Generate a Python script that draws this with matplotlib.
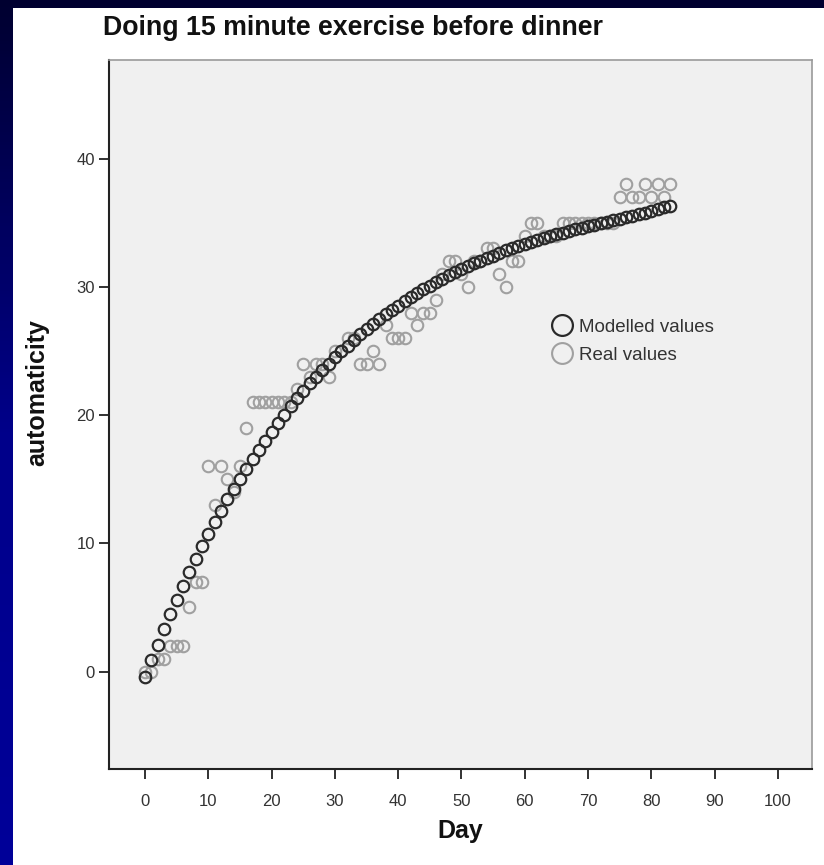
import numpy as np
import matplotlib
matplotlib.use("Agg")
import matplotlib.pyplot as plt
from matplotlib.patches import Rectangle
from matplotlib.lines import Line2D
from matplotlib.colors import LinearSegmentedColormap

plt.rcParams['font.family'] = ['Liberation Sans', 'DejaVu Sans']

title = "Doing 15 minute exercise before dinner"
x_label = "Day"
y_label = "automaticity"
legend_labels = ["Modelled values", "Real values"]
x_ticks = [0, 10, 20, 30, 40, 50, 60, 70, 80, 90, 100]
y_ticks = [0, 10, 20, 30, 40]

model_days = list(range(0, 84))
model_values = [
    -0.4, 0.9, 2.1, 3.3, 4.5, 5.6, 6.7, 7.8, 8.8, 9.8,
    10.7, 11.65, 12.55, 13.45, 14.25, 15.0, 15.8, 16.6, 17.3, 18.0,
    18.7, 19.4, 20.0, 20.7, 21.3, 21.9, 22.5, 23.0, 23.5, 24.0,
    24.5, 25.0, 25.4, 25.85, 26.3, 26.7, 27.1, 27.5, 27.85, 28.2,
    28.55, 28.9, 29.2, 29.5, 29.8, 30.1, 30.4, 30.65, 30.9, 31.15,
    31.4, 31.65, 31.85, 32.05, 32.25, 32.45, 32.65, 32.85, 33.0, 33.2,
    33.35, 33.5, 33.65, 33.8, 33.95, 34.1, 34.2, 34.35, 34.5, 34.6,
    34.75, 34.85, 34.95, 35.1, 35.2, 35.3, 35.45, 35.55, 35.65, 35.8,
    35.9, 36.05, 36.2, 36.35,
]

real_days = list(range(0, 84))
real_values = [
    0, 0, 1, 1, 2, 2, 2, 5, 7, 7,
    16, 13, 16, 15, 14, 16, 19, 21, 21, 21,
    21, 21, 21, 21, 22, 24, 23, 24, 24, 23,
    25, 25, 26, 26, 24, 24, 25, 24, 27, 26,
    26, 26, 28, 27, 28, 28, 29, 31, 32, 32,
    31, 30, 32, 32, 33, 33, 31, 30, 32, 32,
    34, 35, 35, 34, 34, 34, 35, 35, 35, 35,
    35, 35, 35, 35, 35, 37, 38, 37, 37, 38,
    37, 38, 37, 38,
]

W, H, DPI = 824, 865, 100
fig = plt.figure(figsize=(W / DPI, H / DPI), dpi=DPI)

# background: blue gradient frame with white panel
bg = fig.add_axes([0, 0, 1, 1], zorder=-10)
grad = np.linspace(0, 1, 256).reshape(-1, 1)
cmap = LinearSegmentedColormap.from_list("bluegrad", ["#000030", "#00008a", "#000099"])
bg.imshow(grad, aspect="auto", cmap=cmap, extent=[0, 1, 0, 1], origin="upper")
bg.add_patch(Rectangle((13 / W, 0), 1 - 13 / W, 1 - 8 / H, facecolor="white",
                       edgecolor="none", transform=bg.transAxes))
bg.set_xlim(0, 1)
bg.set_ylim(0, 1)
bg.axis("off")

ax = fig.add_axes([109 / W, 96 / H, (812 - 109) / W, (769 - 60) / H])
ax.set_facecolor("#f0f0f0")

ax.plot(real_days, real_values, linestyle="none", marker="o", markersize=8.3,
        markerfacecolor="none", markeredgecolor="#a0a0a0", markeredgewidth=1.5,
        zorder=2)
ax.plot(model_days, model_values, linestyle="none", marker="o", markersize=8.3,
        markerfacecolor="none", markeredgecolor="#2a2a2a", markeredgewidth=1.6,
        zorder=3)

ax.set_xlim(-5.7, 105.4)
ax.set_ylim(-7.6, 47.7)
ax.set_xticks(x_ticks)
ax.set_yticks(y_ticks)
ax.tick_params(axis="both", direction="out", length=7, width=1.3, color="#222222",
               labelsize=12, labelcolor="#333333")
ax.tick_params(axis="x", pad=11)
ax.tick_params(axis="y", pad=3)

for s in ["left", "bottom"]:
    ax.spines[s].set_color("#222222")
    ax.spines[s].set_linewidth(1.5)
for s in ["top", "right"]:
    ax.spines[s].set_color("#9a9a9a")
    ax.spines[s].set_linewidth(1.2)

ax.set_xlabel(x_label, fontsize=18, fontweight="bold", labelpad=7, color="#111111")
ax.set_ylabel(y_label, fontsize=18, fontweight="bold", color="#111111")
ax.yaxis.set_label_coords((49 - 109) / (812 - 109), (769 - 393) / (769 - 60))

handles = [
    Line2D([], [], linestyle="none", marker="o", markersize=15, markerfacecolor="none",
           markeredgecolor="#2a2a2a", markeredgewidth=1.6),
    Line2D([], [], linestyle="none", marker="o", markersize=15, markerfacecolor="none",
           markeredgecolor="#a0a0a0", markeredgewidth=1.5),
]
leg = ax.legend(handles, legend_labels, loc="upper left",
                bbox_to_anchor=((543 - 109) / (812 - 109), 1 - (311 - 60) / (769 - 60)),
                frameon=False, fontsize=13.5, handletextpad=0.3, labelspacing=0.6,
                borderaxespad=0, handlelength=1.2)
for t in leg.get_texts():
    t.set_color("#333333")

fig.text(103 / W, 1 - 28 / H, title, fontsize=19.3, fontweight="bold", ha="left",
         va="center", color="#111111")

fig.savefig("out.png", dpi=DPI)
